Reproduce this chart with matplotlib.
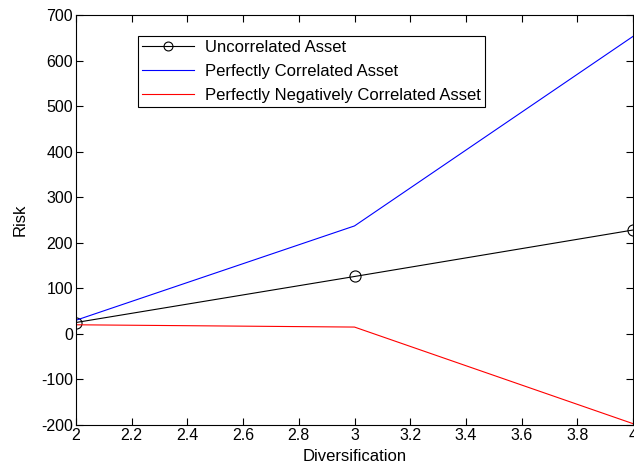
from matplotlib import pyplot as plt
import numpy as np

plt.rcParams['font.family'] = ['Liberation Sans', 'DejaVu Sans']
plt.rcParams['axes.unicode_minus'] = False

tick_fontsize = 11.5
label_fontsize = 12

diversification = [2, 3, 4]
uncorrelated = [25, 126, 228]
correlated = [30, 237, 653]
neg_correlated = [20, 15, -197]

labels = ['Uncorrelated Asset', 'Perfectly Correlated Asset', 'Perfectly Negatively Correlated Asset']

fig = plt.figure(figsize=(6.34, 4.67), dpi=100)
ax = fig.add_axes([0.1199, 0.0899, 0.8785, 0.878])

ax.plot(diversification, uncorrelated, color='black', linewidth=0.8, marker='o',
        markersize=8, markerfacecolor='none', markeredgewidth=0.8, label=labels[0])
ax.plot(diversification, correlated, color='blue', linewidth=0.8, label=labels[1])
ax.plot(diversification, neg_correlated, color='red', linewidth=0.8, label=labels[2])

ax.set_xlim(2, 4)
ax.set_ylim(-200, 700)
ax.set_xticks(np.arange(2, 4.01, 0.2))
ax.set_xticklabels(['2', '2.2', '2.4', '2.6', '2.8', '3', '3.2', '3.4', '3.6', '3.8', '4'])
ax.set_yticks(np.arange(-200, 701, 100))

ax.tick_params(direction='in', top=True, right=True, length=5, labelsize=tick_fontsize, pad=2)
for s in ax.spines.values():
    s.set_linewidth(0.8)

ax.set_xlabel('Diversification', fontsize=label_fontsize, labelpad=4.5)
ax.set_ylabel('Risk', fontsize=label_fontsize, labelpad=10)

leg = ax.legend(loc='upper left', bbox_to_anchor=(0.111, 0.949), fontsize=label_fontsize,
                handlelength=3.1, handletextpad=0.65, fancybox=False, edgecolor='black',
                framealpha=1, borderaxespad=0, labelspacing=0.54, borderpad=0.25,
                markerscale=0.8)
leg.get_frame().set_linewidth(0.8)

plt.savefig('out.png', dpi=100)
